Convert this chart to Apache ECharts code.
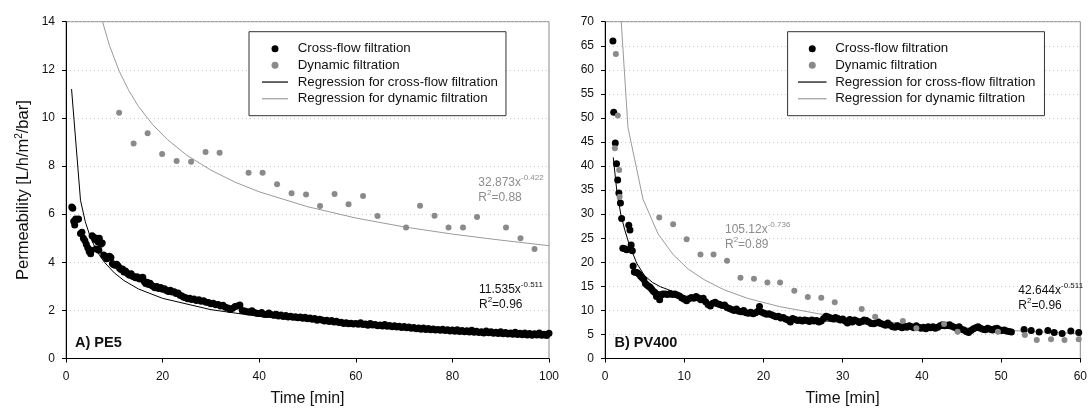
<!DOCTYPE html>
<html><head><meta charset="utf-8">
<script src="https://cdn.jsdelivr.net/npm/echarts@6/dist/echarts.min.js"></script>
<style>html,body{margin:0;padding:0;background:#fff}#c{width:1090px;height:414px}</style>
</head><body><div id="c"></div>
<script>
// ---------- DATA ----------
const legendNames = ['Cross-flow filtration', 'Dynamic filtration', 'Regression for cross-flow filtration', 'Regression for dynamic filtration'];
const panelLabels = ['A) PE5', 'B) PV400'];
const xTitle = 'Time [min]';

// Panel A (PE5): [time min, permeability]
const peCrossFlow = [[1.2,6.3],[1.4,6.25],[1.6,5.7],[1.8,5.55],[2.0,5.8],[2.3,5.78],[2.6,5.8],[3.0,5.2],[3.3,5.25],[3.6,5.0],[3.9,4.9],[4.2,4.75],[4.5,4.6],[4.8,4.45],[5.1,4.35],[5.2,4.5],[5.4,5.1],[5.7,5.05],[6.0,4.95],[6.2,4.55],[6.3,5.0],[6.6,4.85],[6.8,4.5],[6.9,5.0],[7.2,4.75],[7.5,4.8],[7.8,4.3],[8.1,4.25],[8.4,4.15],[8.7,4.2],[9.0,4.25],[9.3,4.2],[9.6,3.95],[9.9,3.9],[10.2,3.88],[10.5,3.92],[10.8,3.85],[11.1,3.75],[11.4,3.7],[11.7,3.72],[12.0,3.6],[12.3,3.64],[12.6,3.56],[12.9,3.5],[13.2,3.46],[13.5,3.52],[13.8,3.42],[14.1,3.4],[14.4,3.36],[14.7,3.4],[15.0,3.34],[15.3,3.3],[15.6,3.36],[15.9,3.38],[16.2,3.2],[16.5,3.12],[16.8,3.17],[17.1,3.08],[17.4,3.13],[17.7,3.04],[18.0,3.0],[18.4,2.94],[18.8,2.99],[19.2,2.91],[19.6,2.95],[20.0,2.88],[20.4,2.9],[20.8,2.83],[21.2,2.79],[21.6,2.84],[22.0,2.76],[22.4,2.77],[22.8,2.7],[23.2,2.72],[23.6,2.63],[24.0,2.6],[24.4,2.55],[24.8,2.53],[25.2,2.48],[25.6,2.5],[26.0,2.45],[26.5,2.47],[27.0,2.41],[27.5,2.44],[28.0,2.38],[28.5,2.4],[29.0,2.34],[29.5,2.33],[30.0,2.28],[30.5,2.3],[31.0,2.23],[31.5,2.24],[32.0,2.18],[32.5,2.21],[33.0,2.13],[33.5,2.1],[34.0,2.04],[34.5,2.09],[35.0,2.16],[35.5,2.18],[36.0,2.22],[36.5,2.0],[37.0,1.97],[37.5,1.94],[38.0,1.93],[38.5,1.99],[39.0,1.91],[39.5,1.88],[40.0,1.87],[40.5,1.91],[41.0,1.84],[41.5,1.83],[42.0,1.89],[42.5,1.83],[43.0,1.8],[43.5,1.84],[44.0,1.77],[44.5,1.81],[45.0,1.75],[45.5,1.79],[46.0,1.73],[46.5,1.76],[47.0,1.71],[47.5,1.74],[48.0,1.69],[48.5,1.73],[49.0,1.67],[49.5,1.71],[50.0,1.65],[50.5,1.68],[51.0,1.63],[51.5,1.66],[52.0,1.59],[52.5,1.63],[53.0,1.6],[53.5,1.56],[54.0,1.59],[54.5,1.54],[55.0,1.58],[55.5,1.52],[56.0,1.55],[56.5,1.5],[57.0,1.51],[57.5,1.46],[58.0,1.49],[58.5,1.44],[59.0,1.47],[59.5,1.43],[60.0,1.46],[60.5,1.42],[61.0,1.49],[61.5,1.41],[62.0,1.43],[62.5,1.38],[63.0,1.45],[63.5,1.39],[64.0,1.41],[64.5,1.36],[65.0,1.39],[65.5,1.35],[66.0,1.41],[66.5,1.34],[67.0,1.37],[67.5,1.32],[68.0,1.36],[68.5,1.31],[69.0,1.34],[69.5,1.29],[70.0,1.33],[70.5,1.28],[71.0,1.31],[71.5,1.26],[72.0,1.29],[72.5,1.24],[73.0,1.27],[73.5,1.22],[74.0,1.27],[74.5,1.21],[75.0,1.25],[75.5,1.2],[76.0,1.23],[76.5,1.18],[77.0,1.21],[77.5,1.17],[78.0,1.22],[78.5,1.16],[79.0,1.19],[79.5,1.14],[80.0,1.18],[80.5,1.13],[81.0,1.19],[81.5,1.12],[82.0,1.16],[82.5,1.11],[83.0,1.15],[83.5,1.1],[84.0,1.17],[84.5,1.09],[85.0,1.13],[85.5,1.08],[86.0,1.11],[86.5,1.06],[87.0,1.14],[87.5,1.07],[88.0,1.11],[88.5,1.05],[89.0,1.09],[89.5,1.04],[90.0,1.11],[90.5,1.03],[91.0,1.08],[91.5,1.02],[92.0,1.06],[92.5,1.01],[93.0,1.09],[93.5,1.0],[94.0,1.05],[94.5,0.99],[95.0,1.06],[95.5,0.98],[96.0,1.04],[96.5,0.97],[97.0,1.03],[97.5,0.98],[98.0,1.06],[98.5,0.97],[99.0,1.01],[99.5,0.96],[100.0,1.05]];
const peDynamic = [[11.0,10.22],[14.0,8.94],[16.9,9.36],[19.9,8.5],[22.9,8.21],[25.9,8.18],[28.9,8.58],[31.8,8.55],[37.8,7.72],[40.7,7.72],[43.7,7.24],[46.7,6.87],[49.7,6.82],[52.6,6.34],[55.6,6.84],[58.5,6.41],[61.5,6.75],[64.5,5.92],[70.4,5.45],[73.3,6.35],[76.3,5.93],[79.2,5.45],[82.2,5.45],[85.1,5.88],[91.1,5.45],[94.1,5.0],[97.0,4.55]];
const peCrossFlowFit = [[1.15,11.2],[3,6.58],[4,5.68],[5,5.07],[6,4.62],[7,4.27],[8,3.99],[10,3.56],[12,3.24],[15,2.89],[20,2.5],[30,2.03],[40,1.75],[50,1.56],[60,1.42],[70,1.32],[80,1.23],[90,1.16],[100,1.1]];
const peDynamicFit = [[7.56,14.0],[9,13.01],[11,11.95],[13,11.14],[15,10.48],[18,9.71],[21,9.1],[25,8.45],[30,7.83],[35,7.33],[40,6.93],[50,6.31],[60,5.84],[70,5.47],[80,5.17],[90,4.92],[100,4.69]];

// Panel B (PV400)
const pvCrossFlow = [[1.0,66.0],[1.1,51.2],[1.3,44.8],[1.45,40.5],[1.6,37.1],[1.75,34.4],[1.95,32.3],[2.1,29.1],[2.25,22.9],[2.5,22.8],[2.75,22.6],[3.0,27.7],[3.15,26.7],[3.3,23.6],[3.45,22.4],[3.55,19.2],[3.7,18.0],[3.9,17.9],[4.1,17.8],[4.3,17.5],[4.5,17.1],[4.7,16.8],[4.9,16.4],[5.1,15.6],[5.3,15.3],[5.5,15.0],[5.7,14.8],[5.9,14.4],[6.1,14.0],[6.3,13.7],[6.5,12.9],[6.7,13.3],[6.9,12.2],[7.1,13.2],[7.3,13.4],[7.6,13.4],[7.9,13.3],[8.2,13.5],[8.5,13.3],[8.8,13.4],[9.1,13.2],[9.4,13.0],[9.7,12.6],[10.0,12.3],[10.3,12.0],[10.6,12.4],[10.9,12.7],[11.2,12.5],[11.5,12.9],[11.8,12.6],[12.1,12.2],[12.4,12.5],[12.7,11.8],[13.0,11.2],[13.3,10.9],[13.6,11.5],[13.9,11.7],[14.2,11.4],[14.5,11.2],[14.8,11.0],[15.1,11.1],[15.4,10.6],[15.7,10.4],[16.0,10.2],[16.3,10.0],[16.6,10.3],[16.9,9.8],[17.2,9.7],[17.5,10.0],[17.8,9.5],[18.1,9.4],[18.4,9.6],[18.7,9.3],[19.0,9.5],[19.3,9.8],[19.5,10.8],[19.8,9.6],[20.1,9.4],[20.4,9.2],[20.7,9.3],[21.0,9.1],[21.3,8.9],[21.6,8.7],[21.9,8.8],[22.2,8.4],[22.5,8.5],[22.8,8.2],[23.1,8.0],[23.4,7.6],[23.7,8.3],[24.0,8.1],[24.3,7.9],[24.6,8.0],[24.9,7.8],[25.2,8.0],[25.5,7.9],[25.8,7.7],[26.1,8.0],[26.4,7.8],[26.7,7.9],[27.0,7.6],[27.3,7.8],[27.6,8.3],[27.9,8.8],[28.2,8.6],[28.5,8.4],[28.8,8.2],[29.1,8.5],[29.4,8.3],[29.7,8.0],[30.0,8.2],[30.3,7.8],[30.6,7.4],[30.9,8.1],[31.2,7.6],[31.5,8.0],[31.8,7.8],[32.1,7.5],[32.4,7.7],[32.7,8.0],[33.0,7.9],[33.3,7.6],[33.6,7.3],[33.9,7.2],[34.2,7.4],[34.5,7.6],[34.8,7.3],[35.1,7.1],[35.4,6.9],[35.7,7.4],[36.0,6.9],[36.3,6.6],[36.6,6.5],[36.9,6.8],[37.2,6.6],[37.5,6.4],[37.8,6.7],[38.1,6.5],[38.4,6.8],[38.7,6.6],[39.0,6.4],[39.3,6.8],[39.6,6.5],[39.9,6.3],[40.2,6.5],[40.5,6.2],[40.8,6.6],[41.1,6.4],[41.4,6.6],[41.7,6.3],[42.0,6.5],[42.3,6.8],[42.6,7.0],[42.9,6.8],[43.2,6.9],[43.5,7.0],[43.8,6.7],[44.1,6.5],[44.4,6.3],[44.7,6.6],[45.0,6.1],[45.3,5.9],[45.6,5.6],[45.9,5.4],[46.2,5.8],[46.5,6.2],[46.8,6.4],[47.1,6.6],[47.4,6.3],[47.7,6.1],[48.0,6.0],[48.3,6.3],[48.6,6.1],[48.9,5.9],[49.2,6.2],[49.5,6.3],[49.8,6.0],[50.1,5.8],[50.4,5.9],[50.7,5.7],[51.0,5.6],[51.3,5.5],[52.9,6.05],[53.8,5.8],[54.8,5.5],[55.9,5.8],[56.7,5.4],[57.7,5.2],[58.8,5.7],[59.8,5.4]];
const pvDynamic = [[1.25,43.7],[1.37,63.3],[1.62,50.5],[1.79,39.2],[1.85,33.6],[6.85,29.3],[8.6,27.9],[10.3,24.8],[12.05,21.6],[13.7,21.6],[15.4,20.3],[17.1,16.8],[18.8,16.6],[20.5,15.8],[22.1,15.8],[23.9,14.1],[25.6,12.8],[27.3,12.65],[29.0,11.7],[32.4,10.3],[34.1,8.7],[37.6,7.8],[39.3,6.3],[42.8,7.17],[44.5,5.58],[49.6,5.58],[53.0,4.9],[54.5,3.85],[56.3,3.98],[58.0,3.85],[59.8,3.98]];
const pvCrossFlowFit = [[1.04,41.8],[1.5,34.7],[2,29.9],[2.5,26.7],[3,24.0],[4,19.8],[5,17.2],[6,15.8],[7,14.9],[8,14.3],[10,13.1],[12,12.0],[15,10.7],[20,9.23],[25,8.23],[30,7.5],[35,6.93],[40,6.47],[45,6.1],[51.5,5.69]];
const pvDynamicFit = [[1.2,91.9],[2.9,48.0],[4.8,33.1],[6.7,25.9],[8.6,21.6],[10.5,18.6],[12.5,16.4],[15,14.3],[18,12.5],[22,10.8],[27,9.29],[33,8.02],[40,6.96],[50,5.91],[60,5.16]];

// Regression annotations: [equation coefficient, exponent, R²]
const peCrossFlowEq = ['11.535x', '-0.511', '0.96'];
const peDynamicEq = ['32.873x', '-0.422', '0.88'];
const pvCrossFlowEq = ['42.644x', '-0.511', '0.96'];
const pvDynamicEq = ['105.12x', '-0.736', '0.89'];

// ---------- CHART ----------
const FONT = '"Liberation Sans", Arial, Helvetica, sans-serif';
const BLACK = '#000000';
const GRAY_DOT = '#8a8a8a';
const GRAY_LINE = '#9a9a9a';
const chart = echarts.init(document.getElementById('c'), null, {renderer: 'canvas'});

function xAxis(grid, max, interval) {
  return {
    type: 'value', gridIndex: grid, min: 0, max: max, interval: interval,
    name: xTitle, nameLocation: 'middle', nameGap: 32,
    nameTextStyle: {fontFamily: FONT, fontSize: 16, color: '#111'},
    axisLine: {show: true, onZero: false, lineStyle: {color: '#000', width: 1}},
    axisTick: {show: true, inside: false, length: 4, lineStyle: {color: '#000'}},
    axisLabel: {fontFamily: FONT, fontSize: 12, color: '#111', margin: 12},
    splitLine: {show: false}
  };
}
function yAxis(grid, max, interval, withName) {
  const a = {
    type: 'value', gridIndex: grid, min: 0, max: max, interval: interval,
    axisLine: {show: true, onZero: false, lineStyle: {color: '#000', width: 1}},
    axisTick: {show: true, inside: false, length: 4, lineStyle: {color: '#000'}},
    axisLabel: {fontFamily: FONT, fontSize: 12, color: '#111', margin: 11},
    splitLine: {show: true, lineStyle: {type: [1, 3], color: '#c8c8c8', width: 1}}
  };
  if (withName) {
    a.name = '{a|Permeability [L/h/m}{s|2}{a|/bar]}';
    a.nameLocation = 'middle';
    a.nameGap = 34;
    a.nameTextStyle = {
      fontFamily: FONT, color: '#111',
      rich: {
        a: {fontFamily: FONT, fontSize: 16.5, color: '#111', lineHeight: 18},
        s: {fontFamily: FONT, fontSize: 10, color: '#111', lineHeight: 10, verticalAlign: 'top'}
      }
    };
  }
  return a;
}

function scatter(name, data, gi, color, size) {
  return {type: 'scatter', name: name, data: data, xAxisIndex: gi, yAxisIndex: gi,
    symbol: 'circle', symbolSize: size, itemStyle: {color: color, opacity: 1}, z: 3, silent: true};
}
function fit(name, data, gi, color) {
  return {type: 'line', name: name, data: data, xAxisIndex: gi, yAxisIndex: gi,
    symbol: 'none', showSymbol: false, smooth: false, clip: true, lineStyle: {color: color, width: 1}, itemStyle: {color: color}, z: 2, silent: true};
}

function legend(left, itemWidth, padding, textPad) {
  const lineIcon = 'path://M0,0H' + itemWidth + 'V1.2H0Z';
  return {
    show: true, orient: 'vertical', left: left, top: 31.7,
    itemWidth: itemWidth, itemHeight: 7, itemGap: 0,
    padding: padding, borderColor: '#333', borderWidth: 1, backgroundColor: '#fff',
    selectedMode: false,
    textStyle: {fontFamily: FONT, fontSize: 13.3, color: '#111', lineHeight: 16.7, padding: [0, 0, 0, textPad]},
    data: [
      {name: legendNames[0], icon: 'circle'},
      {name: legendNames[1], icon: 'circle'},
      {name: legendNames[2], icon: lineIcon, itemStyle: {color: BLACK}},
      {name: legendNames[3], icon: lineIcon, itemStyle: {color: GRAY_LINE}}
    ]
  };
}

const eqRich = function (color) {
  return {
    a: {fontFamily: FONT, fontSize: 12, color: color, lineHeight: 15, verticalAlign: 'bottom'},
    s: {fontFamily: FONT, fontSize: 8, color: color, lineHeight: 8, verticalAlign: 'top'}
  };
};
function eqText(left, top, eq, color) {
  return {
    type: 'text', left: left, top: top, z: 10, silent: true,
    style: {
      text: '{a|' + eq[0] + '}{s|' + eq[1] + '}\n{a|R}{s|2}{a|=' + eq[2] + '}',
      rich: eqRich(color), fill: color
    }
  };
}
function panelLabel(left, text) {
  return {type: 'text', left: left, top: 335, z: 10, silent: true,
    style: {text: text, fontFamily: FONT, fontSize: 14.5, fontWeight: 'bold', fill: '#111'}};
}

const option = {
  animation: false,
  backgroundColor: '#fff',
  grid: [
    {left: 66, right: 541, top: 21.7, bottom: 55.5, show: true, borderColor: '#8a8a8a', borderWidth: 1, containLabel: false},
    {left: 605, right: 3.5, top: 21.7, bottom: 55.5, show: true, borderColor: '#8a8a8a', borderWidth: 1, containLabel: false}
  ],
  xAxis: [xAxis(0, 100, 20), xAxis(1, 60, 10)],
  yAxis: [yAxis(0, 14, 2, true), yAxis(1, 70, 5, false)],
  legend: [
    legend(249, 26, [8.6, 8, 8.6, 13], 4.7),
    legend(787.6, 28.5, [8.6, 9, 8.6, 10.4], 3.7)
  ],
  series: [
    fit(legendNames[2], peCrossFlowFit, 0, BLACK),
    fit(legendNames[3], peDynamicFit, 0, GRAY_LINE),
    scatter(legendNames[0], peCrossFlow, 0, BLACK, 7),
    scatter(legendNames[1], peDynamic, 0, GRAY_DOT, 6),
    fit(legendNames[2], pvCrossFlowFit, 1, BLACK),
    fit(legendNames[3], pvDynamicFit, 1, GRAY_LINE),
    scatter(legendNames[0], pvCrossFlow, 1, BLACK, 7),
    scatter(legendNames[1], pvDynamic, 1, GRAY_DOT, 6)
  ],
  graphic: [
    eqText(478.3, 173.5, peDynamicEq, '#8c8c8c'),
    eqText(479, 280.8, peCrossFlowEq, '#111'),
    eqText(725, 220.8, pvDynamicEq, '#8c8c8c'),
    eqText(1018.3, 281.5, pvCrossFlowEq, '#111'),
    panelLabel(75, panelLabels[0]),
    panelLabel(614.5, panelLabels[1])
  ]
};
chart.setOption(option);
</script>
</body></html>
